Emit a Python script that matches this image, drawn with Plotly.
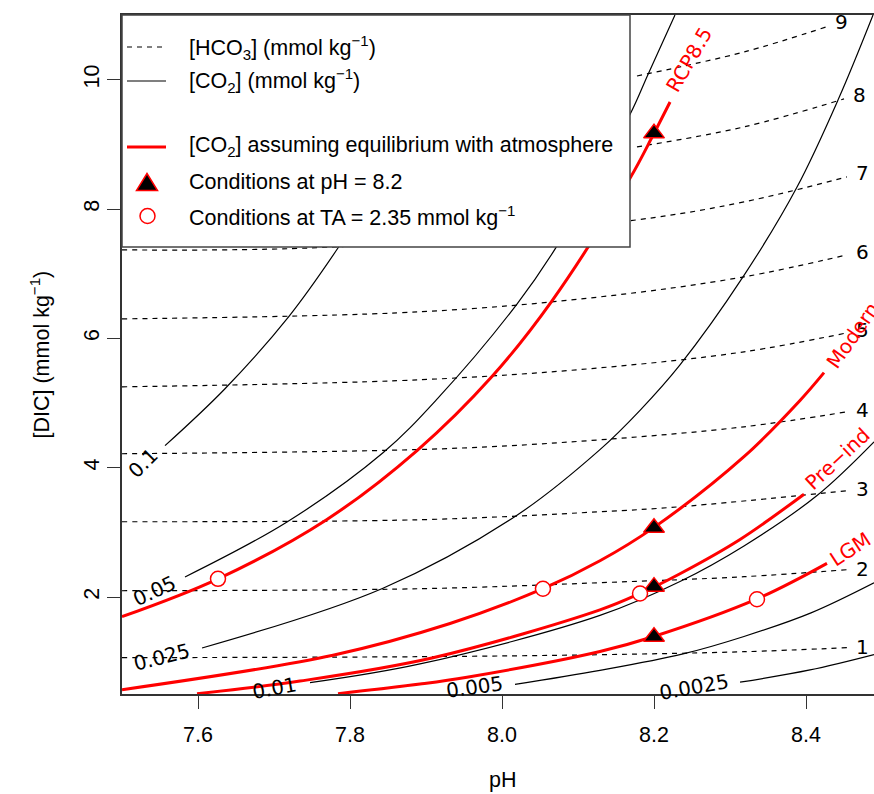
import plotly.graph_objects as go

FONT = "Liberation Sans, Arial, Helvetica, sans-serif"
LABFONT = "DejaVu Sans, sans-serif"

# ---------------- [HCO3] contours (mmol/kg), dashed ----------------
hco3_levels = ["1", "2", "3", "4", "5", "6", "7", "8", "9"]
hco3_1_ph = [7.5, 7.8921, 8.1289, 8.3184, 8.4539]
hco3_1_dic = [1.062, 1.077, 1.108, 1.154, 1.216]
hco3_2_ph = [7.5, 7.8921, 8.1289, 8.3184, 8.4539]
hco3_2_dic = [2.097, 2.128, 2.221, 2.314, 2.422]
hco3_3_ph = [7.5, 7.8921, 8.1289, 8.2342, 8.4539]
hco3_3_dic = [3.164, 3.195, 3.318, 3.396, 3.643]
hco3_4_ph = [7.5, 7.9211, 8.1289, 8.3184, 8.4539]
hco3_4_dic = [4.215, 4.292, 4.431, 4.632, 4.864]
hco3_5_ph = [7.5, 7.8921, 8.1289, 8.3184, 8.4539]
hco3_5_dic = [5.250, 5.359, 5.544, 5.791, 6.085]
hco3_6_ph = [7.5, 7.8921, 8.1289, 8.3184, 8.4539]
hco3_6_dic = [6.301, 6.410, 6.641, 6.951, 7.291]
hco3_7_ph = [7.5, 7.7803, 8.1776, 8.3184, 8.4539]
hco3_7_dic = [7.368, 7.414, 7.832, 8.110, 8.496]
hco3_8_ph = [8.1776, 8.3184, 8.4500]
hco3_8_dic = [8.960, 9.269, 9.702]
hco3_9_ph = [8.1776, 8.3184, 8.4263]
hco3_9_dic = [10.057, 10.428, 10.815]

# ---------------- [CO2] contours (mmol/kg), solid ----------------
co2_levels = ["0.1", "0.05", "0.025", "0.01", "0.005", "0.0025"]
co2_0p1_ph = [7.5566, 7.6355, 7.7197, 7.7855, 7.8329]
co2_0p1_dic = [4.34, 5.22, 6.34, 7.42, 8.30]
co2_0p05_ph = [7.5829, 7.7171, 7.8434, 7.9145, 8.0197, 8.0724, 8.1684, 8.1921, 8.2276]
co2_0p05_dic = [2.31, 3.16, 4.23, 5.06, 6.53, 7.43, 9.46, 10.08, 11.0]
co2_0p025_ph = [7.6053, 7.8434, 8.0197, 8.1289, 8.1816, 8.2342, 8.3171, 8.3882, 8.4434, 8.4882]
co2_0p025_dic = [1.212, 2.136, 3.265, 4.279, 4.887, 5.59, 6.95, 8.34, 9.72, 11.0]
co2_0p01_ph = [7.7474, 7.8921, 8.1289, 8.2342, 8.3184, 8.4145, 8.4895]
co2_0p01_dic = [0.675, 0.965, 1.715, 2.24, 2.79, 3.57, 4.40]
co2_0p005_ph = [8.0171, 8.1289, 8.2382, 8.3184, 8.4066, 8.4895]
co2_0p005_dic = [0.648, 0.865, 1.12, 1.39, 1.755, 2.22]
co2_0p0025_ph = [8.3132, 8.4053, 8.4895]
co2_0p0025_dic = [0.683, 0.872, 1.11]
# label positions / angles for CO2 contour labels
co2_label_ph = [7.5276, 7.5421, 7.5526, 7.7013, 7.9632, 8.2526]
co2_label_dic = [4.076, 2.097, 1.077, 0.60, 0.61, 0.61]
co2_label_angle = [-45, -25, -14, -10, -8, -10]

# ---------------- [CO2] in equilibrium with atmosphere (red) ----------------
scen_names = ["RCP8.5", "Modern", "Pre\u2212ind", "LGM"]
rcp85_ph = [7.5, 7.6263, 7.7697, 7.8882, 7.9868, 8.0658, 8.1684, 8.1987, 8.2211]
rcp85_dic = [1.696, 2.281, 3.20, 4.265, 5.41, 6.58, 8.475, 9.14, 9.655]
modern_ph = [7.5, 7.7776, 7.9316, 8.0539, 8.1289, 8.1987, 8.3184, 8.3921, 8.4237]
modern_dic = [0.567, 1.10, 1.59, 2.128, 2.56, 3.065, 4.17, 5.04, 5.47]
preind_ph = [7.5987, 7.7342, 7.9092, 8.1289, 8.1816, 8.2342, 8.3132, 8.3974]
preind_dic = [0.505, 0.70, 1.06, 1.80, 2.054, 2.36, 2.89, 3.59]
lgm_ph = [7.7842, 7.8921, 7.9539, 8.1289, 8.1987, 8.3355, 8.4276]
lgm_dic = [0.505, 0.654, 0.76, 1.157, 1.385, 1.97, 2.52]
scen_label_ph = [8.2461, 8.4618, 8.4412, 8.4585]
scen_label_dic = [10.304, 6.054, 4.13, 2.75]
scen_label_angle = [-60, -55, -43, -33]

# conditions at pH = 8.2 (triangles)
tri_ph = [8.2, 8.2, 8.2, 8.2]
tri_dic = [9.17, 3.07, 2.16, 1.386]
# conditions at TA = 2.35 mmol/kg (circles)
circ_ph = [7.6263, 8.0539, 8.1816, 8.3355]
circ_dic = [2.281, 2.128, 2.054, 1.965]

x_ticks = [7.6, 7.8, 8.0, 8.2, 8.4]
x_ticktext = ["7.6", "7.8", "8.0", "8.2", "8.4"]
y_ticks = [2, 4, 6, 8, 10]
y_ticktext = ["2", "4", "6", "8", "10"]

fig = go.Figure()

hco3_series = [(hco3_1_ph, hco3_1_dic), (hco3_2_ph, hco3_2_dic), (hco3_3_ph, hco3_3_dic),
               (hco3_4_ph, hco3_4_dic), (hco3_5_ph, hco3_5_dic), (hco3_6_ph, hco3_6_dic),
               (hco3_7_ph, hco3_7_dic), (hco3_8_ph, hco3_8_dic), (hco3_9_ph, hco3_9_dic)]
for xs, ys in hco3_series:
    fig.add_trace(go.Scatter(x=xs, y=ys, mode="lines", showlegend=False, hoverinfo="skip",
                             line=dict(color="black", width=1.2, dash="5px,5px", shape="spline")))

co2_series = [(co2_0p1_ph, co2_0p1_dic), (co2_0p05_ph, co2_0p05_dic), (co2_0p025_ph, co2_0p025_dic),
              (co2_0p01_ph, co2_0p01_dic), (co2_0p005_ph, co2_0p005_dic), (co2_0p0025_ph, co2_0p0025_dic)]
for xs, ys in co2_series:
    fig.add_trace(go.Scatter(x=xs, y=ys, mode="lines", showlegend=False, hoverinfo="skip",
                             line=dict(color="black", width=1.2, shape="spline")))

scen_series = [(rcp85_ph, rcp85_dic), (modern_ph, modern_dic), (preind_ph, preind_dic), (lgm_ph, lgm_dic)]
for xs, ys in scen_series:
    fig.add_trace(go.Scatter(x=xs, y=ys, mode="lines", showlegend=False, hoverinfo="skip",
                             line=dict(color="#ff0000", width=3, shape="spline")))

fig.add_trace(go.Scatter(x=tri_ph, y=tri_dic, mode="markers", showlegend=False, hoverinfo="skip",
                         marker=dict(symbol="triangle-up", size=18, color="black",
                                     line=dict(color="#ff0000", width=1.5))))
fig.add_trace(go.Scatter(x=circ_ph, y=circ_dic, mode="markers", showlegend=False, hoverinfo="skip",
                         marker=dict(symbol="circle", size=15, color="white",
                                     line=dict(color="#ff0000", width=1.5))))

annotations = []
# HCO3 labels just beyond the end of each dashed line (continuing along its direction)
for lab, (xs, ys) in zip(hco3_levels, hco3_series):
    slope = (ys[-1] - ys[-2]) / (xs[-1] - xs[-2])
    annotations.append(dict(x=xs[-1] + 0.02, y=ys[-1] + 0.02 * slope, xref="x", yref="y", text=lab,
                            showarrow=False, xanchor="center", yanchor="middle",
                            font=dict(family=LABFONT, size=20, color="black")))
for lab, x, y, a in zip(co2_levels, co2_label_ph, co2_label_dic, co2_label_angle):
    annotations.append(dict(x=x, y=y, xref="x", yref="y", text=lab, showarrow=False, textangle=a,
                            xanchor="center", yanchor="middle",
                            font=dict(family=LABFONT, size=20, color="black")))
for lab, x, y, a in zip(scen_names, scen_label_ph, scen_label_dic, scen_label_angle):
    annotations.append(dict(x=x, y=y, xref="x", yref="y", text=lab, showarrow=False, textangle=a,
                            xanchor="center", yanchor="middle",
                            font=dict(family=LABFONT, size=20, color="#ff0000")))

# plot area geometry in pixels (for the hand-drawn legend box)
L, T, W, H = 122, 15, 752, 679
def px(x):
    return (x - L) / W
def py(y):
    return (T + H - y) / H

legend_rows = [47, 81, 147, 182, 216]
legend_texts = ["[HCO<sub>3</sub>] (mmol kg<sup>\u22121</sup>)",
                "[CO<sub>2</sub>] (mmol kg<sup>\u22121</sup>)",
                "[CO<sub>2</sub>] assuming equilibrium with atmosphere",
                "Conditions at pH = 8.2",
                "Conditions at TA = 2.35 mmol kg<sup>\u22121</sup>"]
for ty, tt in zip(legend_rows, legend_texts):
    annotations.append(dict(x=px(187), y=py(ty), xref="paper", yref="paper", text=tt, showarrow=False,
                            xanchor="left", yanchor="middle",
                            font=dict(family=FONT, size=21.5, color="black")))

# axis titles
annotations.append(dict(x=8.0, y=py(780), xref="x", yref="paper", text="pH", showarrow=False,
                        xanchor="center", yanchor="middle", font=dict(family=FONT, size=21.5, color="black")))
annotations.append(dict(x=px(39), y=0.5, xref="paper", yref="paper", text="[DIC] (mmol kg<sup>\u22121</sup>)",
                        showarrow=False, textangle=-90, xanchor="center", yanchor="middle",
                        font=dict(family=FONT, size=21.5, color="black")))

shapes = [
    dict(type="rect", xref="paper", yref="paper", x0=px(122), x1=px(630), y0=py(247), y1=py(15),
         line=dict(color="#444444", width=1.5), fillcolor="white", layer="above"),
    dict(type="line", xref="paper", yref="paper", x0=px(127), x1=px(166), y0=py(47), y1=py(47),
         line=dict(color="black", width=1.2, dash="5px,5px"), layer="above"),
    dict(type="line", xref="paper", yref="paper", x0=px(127), x1=px(166), y0=py(81), y1=py(81),
         line=dict(color="black", width=1.2), layer="above"),
    dict(type="line", xref="paper", yref="paper", x0=px(127), x1=px(166), y0=py(147), y1=py(147),
         line=dict(color="#ff0000", width=3), layer="above"),
    dict(type="path", xref="paper", yref="paper",
         path="M {:.5f},{:.5f} L {:.5f},{:.5f} L {:.5f},{:.5f} Z".format(
             px(136.5), py(190.5), px(157.5), py(190.5), px(147), py(173.5)),
         line=dict(color="#ff0000", width=1.5), fillcolor="black", layer="above"),
    dict(type="circle", xref="paper", yref="paper", x0=px(140), x1=px(155), y0=py(223.5), y1=py(208.5),
         line=dict(color="#ff0000", width=1.5), fillcolor="white", layer="above"),
]

fig.update_layout(
    width=874, height=794,
    margin=dict(l=L, r=0, t=T, b=794 - T - H, pad=0),
    paper_bgcolor="white", plot_bgcolor="white",
    font=dict(family=FONT, size=21.5, color="black"),
    showlegend=False,
    annotations=annotations,
    shapes=shapes,
    xaxis=dict(range=[7.5, 7.5 + 752 / 760], tickvals=x_ticks, ticktext=x_ticktext,
               ticks="outside", ticklen=13, tickwidth=1.3, tickcolor="#333333",
               showline=True, linecolor="#333333", linewidth=1.5, mirror=True,
               showgrid=False, zeroline=False, ticklabelstandoff=7,
               tickfont=dict(family=FONT, size=21.5, color="black")),
    yaxis=dict(range=[0.5, 11], tickvals=y_ticks, ticktext=y_ticktext,
               ticks="outside", ticklen=13, tickwidth=1.3, tickcolor="#333333",
               showline=True, linecolor="#333333", linewidth=1.5, mirror=False,
               showgrid=False, zeroline=False, tickangle=-90,
               tickfont=dict(family=FONT, size=21.5, color="black")),
)

fig.write_html("out.html", config={"displayModeBar": False},
               post_script="document.body.style.margin='0px';document.body.style.overflow='hidden';")
